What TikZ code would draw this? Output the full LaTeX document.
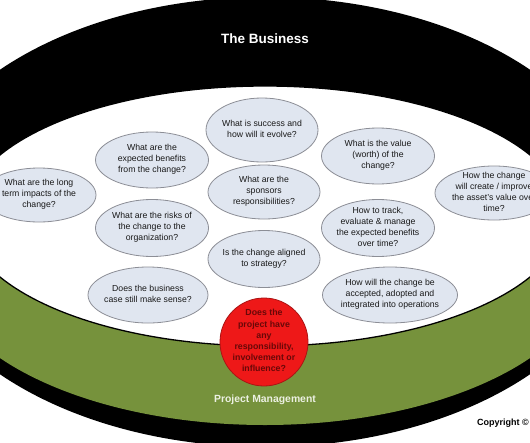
\documentclass[tikz,border=0pt]{standalone}
\usepackage{fontspec}
\setmainfont{Liberation Sans}
\usetikzlibrary{shapes.geometric}
\definecolor{qfill}{RGB}{224,230,240}
\definecolor{qline}{RGB}{140,142,150}
\definecolor{qtext}{RGB}{25,25,25}
\definecolor{pmgreen}{RGB}{118,146,60}
\definecolor{pmtext}{RGB}{236,240,226}
\definecolor{redfill}{RGB}{238,24,24}
\definecolor{redline}{RGB}{170,20,20}
\definecolor{redtext}{RGB}{105,8,8}
\newcommand\qtxt[1]{\makebox[0pt]{\raisebox{-2pt}[0pt][0pt]{\begin{tabular}{@{}c@{}}#1\end{tabular}}}}
\tikzset{
  qbox/.style={ellipse, draw=qline, line width=0.8pt, fill=qfill, inner sep=0pt,
    text=qtext, font=\fontsize{8.7}{11}\selectfont},
  redbox/.style={circle, draw=redline, line width=0.8pt, fill=redfill, inner sep=0pt,
    minimum size=88pt, text=redtext, font=\bfseries\fontsize{8.8}{11.2}\selectfont},
  title/.style={font=\bfseries\fontsize{13.5}{16}\selectfont, text=white, inner sep=0pt},
}
\begin{document}
\begin{tikzpicture}[x=1pt,y=-1pt]
\useasboundingbox (0,0) rectangle (530,442);
\clip (0,0) rectangle (530,442);
\fill[white] (0,0) rectangle (530,442);
% The Business (outer black ellipse)
\fill[black] (265,222) ellipse [x radius=360pt, y radius=225pt];
% Project Management (green ellipse)
\fill[pmgreen] (265,260) ellipse [x radius=329.5pt, y radius=165pt];
% inner white field
\filldraw[fill=white, draw=black, line width=1.3pt] (265,216) ellipse [x radius=300pt, y radius=130pt];

\node[title] (biz) at (265,39) {The Business};
\node[font=\bfseries\fontsize{10.4}{12}\selectfont, text=pmtext, inner sep=0pt] (pm) at (265,400) {Project Management};
\node[font=\bfseries\fontsize{9}{11}\selectfont, text=black, anchor=west, inner sep=0pt] (copy) at (477,423) {Copyright ©};

\node[qbox, minimum width=114pt, minimum height=54pt] (longterm) at (39,195) {\qtxt{What are the long\\term impacts of the\\change?}};
\node[qbox, minimum width=113pt, minimum height=56pt] (benefits) at (152,160) {\qtxt{What are the\\expected benefits\\from the change?}};
\node[qbox, minimum width=112pt, minimum height=64pt] (success) at (262,130) {\qtxt{What is success and\\how will it evolve?}};
\node[qbox, minimum width=113pt, minimum height=56pt] (value) at (378,156) {\qtxt{What is the value\\(worth) of the\\change?}};
\node[qbox, minimum width=112pt, minimum height=54pt] (sponsors) at (264,192) {\qtxt{What are the\\sponsors\\responsibilities?}};
\node[qbox, minimum width=118pt, minimum height=54pt] (asset) at (494,193) {\qtxt{How the change\\will create / improve\\the asset’s value over\\time?}};
\node[qbox, minimum width=113pt, minimum height=57pt] (risks) at (152,228) {\qtxt{What are the risks of\\the change to the\\organization?}};
\node[qbox, minimum width=113pt, minimum height=57pt] (track) at (378,228) {\qtxt{How to track,\\evaluate \& manage\\the expected benefits\\over time?}};
\node[qbox, minimum width=112pt, minimum height=57pt] (aligned) at (264,259) {\qtxt{Is the change aligned\\to strategy?}};
\node[qbox, minimum width=120pt, minimum height=56pt] (sense) at (148,295) {\qtxt{Does the business\\case still make sense?}};
\node[qbox, minimum width=135pt, minimum height=56pt] (accepted) at (390,295) {\qtxt{How will the change be\\accepted, adopted and\\integrated into operations}};

\node[redbox] (project) at (264,342) {\qtxt{Does the\\project have\\any\\responsibility,\\involvement or\\influence?}};
\end{tikzpicture}
\end{document}
